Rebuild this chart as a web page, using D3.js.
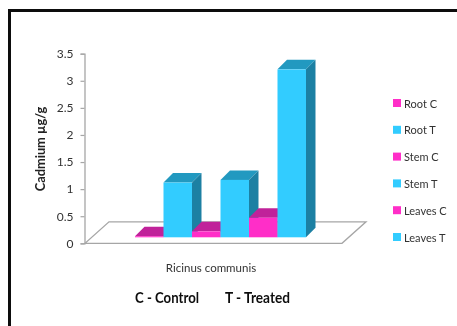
<!DOCTYPE html>
<html>
<head>
<meta charset="utf-8">
<script src="https://cdn.jsdelivr.net/npm/d3@7/dist/d3.min.js"></script>
<style>
html,body{margin:0;padding:0;background:#fff;overflow:hidden}
svg{display:block}
text{font-family:Lato,"Open Sans",sans-serif}
</style>
</head>
<body>
<svg id="c" width="457" height="326"></svg>
<script>
const seriesNames = ["Root C","Root T","Stem C","Stem T","Leaves C","Leaves T"];
const seriesValues = [0.02,1.01,0.11,1.06,0.36,3.10];
const seriesGroups = ["C","T","C","T","C","T"];
const yTicks = [0,0.5,1,1.5,2,2.5,3,3.5];
const yTickLabels = ["0","0.5","1","1.5","2","2.5","3","3.5"];
const faceColors = {C:"#ff2fc8",T:"#33ccff"};
const topColors = {C:"#c0229a",T:"#2499c0"};
const sideColors = {C:"#a01c80",T:"#1e80a3"};

const svg = d3.select("#c");
const defs = svg.append("defs");
defs.append("filter").attr("id","soft").append("feGaussianBlur").attr("stdDeviation",0.45);
const root = svg.append("g").attr("filter","url(#soft)");

// frame (left and top only, image is cropped on the other sides)
root.append("path").attr("d","M9.5,326V10.5H457").attr("fill","none").attr("stroke","#0a0a0a").attr("stroke-width",3);

const y = d3.scaleLinear().domain([0,3.5]).range([243.3,53.7]);
const x = d3.scaleBand().domain(seriesNames).range([135,306]);

const barLift = 6, depth = 9.5;
const floorL = 85, floorR = 342, floorDx = 24, floorDy = 21.5;

// floor
root.append("path")
  .attr("d",d3.line()([[floorL,y(0)],[floorR,y(0)],[floorR+floorDx,y(0)-floorDy],[floorL+floorDx,y(0)-floorDy]])+"Z")
  .attr("fill","#fff").attr("stroke","#a6a6a6").attr("stroke-width",1.3);

// axis
const axis = d3.axisLeft(y).tickValues(yTicks).tickFormat((d,i)=>yTickLabels[i]).tickSize(4).tickPadding(7);
const ag = root.append("g").attr("transform","translate(84.5,0)").call(axis);
ag.select(".domain").attr("stroke","#a6a6a6").attr("stroke-width",1.3);
ag.selectAll(".tick line").attr("stroke","#a6a6a6").attr("stroke-width",1.2);
ag.selectAll("text").attr("font-size",12).attr("fill","#333");

// bars
const bars = root.selectAll("g.bar").data(seriesNames.map((n,i)=>({n,v:seriesValues[i],g:seriesGroups[i]})))
  .enter().append("g").attr("class","bar");
const base = y(0)-barLift;
const top_ = d=>y(d.v)-barLift;
bars.append("path").attr("fill",d=>topColors[d.g])
  .attr("d",d=>{const l=x(d.n),r=l+x.bandwidth(),t=top_(d);
    return d3.line()([[l,t],[r,t],[r+depth,t-depth],[l+depth,t-depth]])+"Z";});
bars.append("path").attr("fill",d=>sideColors[d.g])
  .attr("d",d=>{const r=x(d.n)+x.bandwidth(),t=top_(d);
    return d3.line()([[r,t],[r+depth,t-depth],[r+depth,base-depth],[r,base]])+"Z";});
bars.append("rect").attr("fill",d=>faceColors[d.g])
  .attr("x",d=>x(d.n)).attr("width",x.bandwidth())
  .attr("y",top_).attr("height",d=>base-top_(d));

// axis titles
root.append("text").attr("transform","translate(45,149) rotate(-90)")
  .attr("text-anchor","middle").attr("font-size",12.8).attr("font-weight",700).attr("fill","#222")
  .text("Cadmium µg/g");
root.append("text").attr("x",211).attr("y",272).attr("text-anchor","middle")
  .attr("font-size",11.5).attr("fill","#333").text("Ricinus communis");
root.append("text").attr("x",135).attr("y",303).attr("font-size",14.5).attr("font-weight",700).attr("fill","#111")
  .attr("textLength",64).attr("lengthAdjust","spacingAndGlyphs").text("C - Control");
root.append("text").attr("x",225).attr("y",303).attr("font-size",14.5).attr("font-weight",700).attr("fill","#111")
  .attr("textLength",65).attr("lengthAdjust","spacingAndGlyphs").text("T - Treated");

// legend
const ly = d3.scalePoint().domain(seriesNames).range([103,237]);
const leg = root.selectAll("g.leg").data(seriesNames.map((n,i)=>({n,g:seriesGroups[i]})))
  .enter().append("g").attr("class","leg").attr("transform",d=>`translate(393,${ly(d.n)})`);
leg.append("rect").attr("y",-4).attr("width",8).attr("height",8).attr("fill",d=>faceColors[d.g]);
leg.append("text").attr("x",11).attr("y",4.5).attr("font-size",11).attr("fill","#333").text(d=>d.n);
</script>
</body>
</html>
